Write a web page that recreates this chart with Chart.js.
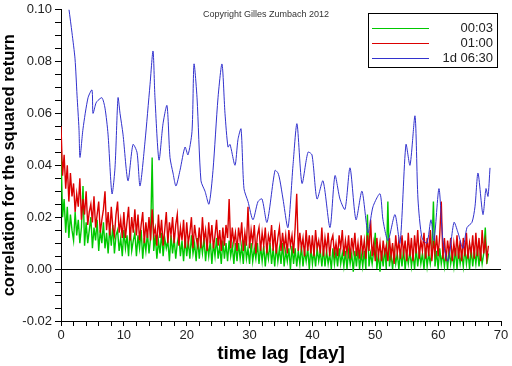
<!DOCTYPE html>
<html>
<head>
<meta charset="utf-8">
<style>
  html, body { margin: 0; padding: 0; background: #fff; }
  #chart { display: block; }
</style>
<script src="https://cdn.jsdelivr.net/npm/chart.js@4.4.1/dist/chart.umd.min.js"></script>
</head>
<body>
<canvas id="chart" width="512" height="366"></canvas>
<script>
'use strict';

// lag spacing (days) of the two intraday series below
const lagStep = 0.25;

const seriesLabels = ['00:03', '01:00', '1d 06:30'];
const seriesColors = ['rgb(0,200,0)', 'rgb(220,0,0)', 'rgb(50,50,205)'];

// 00:03 (green), one value every lagStep days, day 0 .. 68
const green0003 = [
  0.045, 0.020, 0.027, 0.014, 0.024, 0.012, 0.021, 0.015,
  0.011, 0.022, 0.013, 0.019, 0.010, 0.016, 0.032, 0.009,
  0.018, 0.010, 0.015, 0.020, 0.008, 0.016, 0.011, 0.019,
  0.007, 0.015, 0.010, 0.018, 0.008, 0.014, 0.006, 0.016,
  0.009, 0.017, 0.006, 0.013, 0.015, 0.007, 0.012, 0.005,
  0.015, 0.008, 0.013, 0.005, 0.016, 0.007, 0.011, 0.014,
  0.005, 0.013, 0.008, 0.015, 0.004, 0.012, 0.007, 0.014,
  0.006, 0.012, 0.043, 0.007, 0.013, 0.004, 0.011, 0.006,
  0.014, 0.005, 0.012, 0.008, 0.011, 0.003, 0.013, 0.006,
  0.012, 0.004, 0.010, 0.013, 0.005, 0.011, 0.003, 0.012,
  0.005, 0.011, 0.004, 0.013, 0.006, 0.010, 0.003, 0.012,
  0.004, 0.011, 0.006, 0.012, 0.003, 0.010, 0.005, 0.011,
  0.002, 0.010, 0.005, 0.012, 0.004, 0.009, 0.002, 0.011,
  0.004, 0.010, 0.003, 0.011, 0.005, 0.009, 0.002, 0.010,
  0.003, 0.010, 0.004, 0.009, 0.002, 0.011, 0.004, 0.008,
  0.002, 0.010, 0.003, 0.008, 0.004, 0.010, 0.002, 0.009,
  0.003, 0.009, 0.001, 0.008, 0.004, 0.010, 0.002, 0.008,
  0.001, 0.009, 0.003, 0.008, 0.002, 0.010, 0.001, 0.007,
  0.003, 0.008, 0.000, 0.009, 0.002, 0.008, 0.001, 0.007,
  0.002, 0.009, 0.001, 0.007, 0.003, 0.008, 0.000, 0.008,
  0.002, 0.007, 0.001, 0.008, 0.003, 0.007, 0.001, 0.008,
  0.001, 0.007, 0.002, 0.006, 0.000, 0.008, 0.002, 0.007,
  0.001, 0.008, 0.002, 0.006, 0.001, 0.007, 0.000, 0.007,
  0.002, 0.006, -0.001, 0.007, 0.001, 0.008, 0.000, 0.006,
  0.001, 0.007, 0.000, 0.021, 0.001, 0.006, 0.002, 0.007,
  0.014, 0.000, 0.006, -0.001, 0.007, 0.001, 0.008, 0.000,
  0.026, 0.001, 0.006, 0.000, 0.007, 0.002, 0.006, 0.000,
  0.007, 0.001, 0.008, 0.000, 0.006, 0.002, 0.007, 0.001,
  0.006, 0.000, 0.008, 0.001, 0.007, 0.002, 0.006, 0.000,
  0.008, 0.001, 0.006, 0.002, 0.007, 0.026, 0.001, 0.007,
  0.000, 0.008, 0.002, 0.006, 0.001, 0.007, 0.000, 0.008,
  0.002, 0.006, 0.001, 0.008, 0.000, 0.007, 0.002, 0.006,
  0.001, 0.008, 0.002, 0.007, 0.000, 0.008, 0.001, 0.007,
  0.002, 0.008, 0.001, 0.007, 0.002, 0.006, 0.016, 0.002,
  0.006
];

// 01:00 (red), same lags
const red0100 = [
  0.055, 0.036, 0.044, 0.031, 0.040, 0.026, 0.037, 0.028,
  0.033, 0.022, 0.029, 0.024, 0.035, 0.019, 0.027, 0.021,
  0.030, 0.017, 0.022, 0.025, 0.018, 0.028, 0.016, 0.021,
  0.026, 0.014, 0.019, 0.023, 0.030, 0.015, 0.022, 0.013,
  0.024, 0.016, 0.013, 0.021, 0.026, 0.014, 0.019, 0.012,
  0.022, 0.012, 0.018, 0.024, 0.011, 0.020, 0.014, 0.023,
  0.013, 0.021, 0.011, 0.017, 0.022, 0.010, 0.018, 0.012,
  0.020, 0.011, 0.023, 0.013, 0.016, 0.009, 0.021, 0.012,
  0.019, 0.009, 0.015, 0.022, 0.010, 0.018, 0.013, 0.020,
  0.010, 0.017, 0.021, 0.009, 0.016, 0.011, 0.019, 0.008,
  0.018, 0.010, 0.014, 0.020, 0.008, 0.017, 0.012, 0.009,
  0.016, 0.008, 0.020, 0.011, 0.015, 0.007, 0.018, 0.010,
  0.017, 0.008, 0.013, 0.019, 0.009, 0.015, 0.007, 0.016,
  0.009, 0.017, 0.012, 0.027, 0.008, 0.016, 0.010, 0.014,
  0.007, 0.016, 0.011, 0.018, 0.007, 0.014, 0.009, 0.024,
  0.008, 0.015, 0.010, 0.017, 0.006, 0.013, 0.016, 0.007,
  0.014, 0.009, 0.016, 0.006, 0.013, 0.010, 0.017, 0.007,
  0.015, 0.006, 0.012, 0.016, 0.007, 0.014, 0.008, 0.013,
  0.006, 0.015, 0.009, 0.013, 0.006, 0.016, 0.029, 0.007,
  0.014, 0.008, 0.012, 0.005, 0.015, 0.007, 0.013, 0.006,
  0.013, 0.005, 0.015, 0.008, 0.011, 0.006, 0.016, 0.005,
  0.012, 0.007, 0.014, 0.005, 0.011, 0.013, 0.006, 0.010,
  0.005, 0.013, 0.008, 0.015, 0.005, 0.011, 0.006, 0.013,
  0.004, 0.012, 0.007, 0.014, 0.005, 0.010, 0.004, 0.013,
  0.006, 0.011, 0.004, 0.013, 0.007, 0.019, 0.005, 0.010,
  0.003, 0.012, 0.005, 0.010, 0.003, 0.011, 0.006, 0.009,
  0.003, 0.012, 0.005, 0.010, 0.002, 0.013, 0.006, 0.011,
  0.004, 0.013, 0.006, 0.011, 0.003, 0.014, 0.005, 0.012,
  0.003, 0.013, 0.006, 0.015, 0.004, 0.011, 0.007, 0.014,
  0.004, 0.012, 0.005, 0.015, 0.003, 0.011, 0.006, 0.013,
  0.005, 0.013, 0.026, 0.004, 0.012, 0.003, 0.011, 0.006,
  0.012, 0.003, 0.010, 0.005, 0.013, 0.004, 0.011, 0.003,
  0.012, 0.005, 0.014, 0.004, 0.010, 0.006, 0.013, 0.004,
  0.014, 0.005, 0.012, 0.003, 0.015, 0.006, 0.011, 0.004,
  0.009
];

// 1d 06:30 (blue), lags in days and values
const blueDays = [
  1.27, 1.75, 2.23, 2.55, 2.86, 3.02, 3.50, 4.30, 4.93, 5.09,
  5.57, 5.89, 6.52, 7.00, 7.48, 8.11, 8.59, 9.07, 9.39, 9.86,
  10.66, 11.45, 12.09, 12.57, 13.36, 14.16, 14.64, 14.95, 15.59, 16.23,
  16.86, 17.34, 17.82, 18.29, 18.93, 19.73, 20.20, 20.84, 21.16, 21.64,
  22.27, 22.91, 23.54, 24.18, 24.98, 25.61, 26.09, 26.57, 26.89, 27.68,
  28.16, 28.64, 29.11, 29.75, 30.54, 31.34, 31.98, 32.77, 34.04, 34.52,
  34.84, 35.32, 36.11, 36.91, 37.54, 38.34, 39.29, 39.93, 40.73, 41.68,
  42.79, 43.59, 44.38, 45.18, 45.98, 46.93, 47.88, 48.84, 49.63, 50.75,
  51.22, 52.02, 53.13, 53.93, 54.88, 55.52, 56.32, 56.79, 57.43, 58.22,
  58.86, 59.34, 60.13, 60.77, 61.57, 62.52, 63.16, 63.95, 64.59, 65.38,
  65.86, 66.34, 67.13, 67.61, 67.93, 68.25
];
const blueValues = [
  0.100, 0.091, 0.081, 0.067, 0.054, 0.043, 0.054, 0.066, 0.069, 0.060,
  0.064, 0.065, 0.066, 0.062, 0.052, 0.029, 0.039, 0.066, 0.060, 0.052,
  0.034, 0.048, 0.045, 0.032, 0.049, 0.071, 0.084, 0.066, 0.042, 0.056,
  0.063, 0.043, 0.037, 0.032, 0.038, 0.047, 0.044, 0.053, 0.079, 0.066,
  0.034, 0.030, 0.025, 0.038, 0.066, 0.079, 0.060, 0.047, 0.048, 0.040,
  0.050, 0.054, 0.031, 0.026, 0.019, 0.026, 0.027, 0.018, 0.038, 0.037,
  0.034, 0.027, 0.016, 0.040, 0.056, 0.033, 0.045, 0.044, 0.027, 0.034,
  0.016, 0.036, 0.027, 0.023, 0.039, 0.019, 0.030, 0.014, 0.024, 0.029,
  0.019, 0.011, 0.021, 0.010, 0.048, 0.040, 0.059, 0.027, 0.012, 0.010,
  0.019, 0.011, 0.031, 0.011, 0.003, 0.018, 0.014, 0.008, 0.016, 0.018,
  0.024, 0.037, 0.021, 0.031, 0.028, 0.039
];

const xLabelTicks = [0, 10, 20, 30, 40, 50, 60, 70];
const xMinorStep = 2;
const yLabelTicks = [-0.02, 0.00, 0.02, 0.04, 0.06, 0.08, 0.10];
const yMinorStep = 0.005;

function isLabelTick(v, list) {
  return list.some(t => Math.abs(t - v) < 1e-9);
}

let canvasElem = document.getElementById('chart');

// copyright line and boxed legend, as in the original plot
const decorPlugin = {
  id: 'decor',
  afterDraw(chart) {
    const ctx = chart.ctx;
    ctx.save();
    ctx.fillStyle = '#333';
    ctx.font = '9px "Liberation Sans", Arial, sans-serif';
    ctx.textAlign = 'center';
    ctx.textBaseline = 'middle';
    ctx.fillText('Copyright Gilles Zumbach 2012', 266, 15);

    ctx.strokeStyle = '#000';
    ctx.lineWidth = 1;
    ctx.strokeRect(368.5, 13.5, 129, 54);
    ctx.font = '13px "Liberation Sans", Arial, sans-serif';
    ctx.textAlign = 'right';
    for (let i = 0; i < seriesLabels.length; i++) {
      let y = 28.5 + i * 15;
      ctx.strokeStyle = seriesColors[i];
      ctx.beginPath();
      ctx.moveTo(372, y);
      ctx.lineTo(429, y);
      ctx.stroke();
      ctx.fillStyle = '#222';
      ctx.fillText(seriesLabels[i], 493, y);
    }
    ctx.restore();
  }
};

function renderChart() {
  let dataObject = {
    datasets: [
      {
        label: seriesLabels[0],
        data: green0003.map((v, i) => ({ x: i * lagStep, y: v })),
        borderColor: seriesColors[0],
        borderWidth: 1.4,
        order: 3,
      },
      {
        label: seriesLabels[1],
        data: red0100.map((v, i) => ({ x: i * lagStep, y: v })),
        borderColor: seriesColors[1],
        borderWidth: 1.4,
        order: 2,
      },
      {
        label: seriesLabels[2],
        data: blueDays.map((d, i) => ({ x: d, y: blueValues[i] })),
        borderColor: seriesColors[2],
        borderWidth: 1,
        tension: 0.25,
        order: 1,
      }
    ]
  };

  let tickFont = { family: '"Liberation Sans", Arial, sans-serif', size: 13, lineHeight: 1 };

  let config = {
    type: 'line',
    data: dataObject,
    plugins: [decorPlugin],
    options: {
      responsive: false,
      animation: false,
      devicePixelRatio: 1,
      layout: { padding: { top: 7, right: 11, left: 0, bottom: 0 } },
      elements: {
        point: { radius: 0 },
        line: { borderWidth: 1, tension: 0 }
      },
      plugins: {
        legend: { display: false },
        tooltip: { enabled: false }
      },
      scales: {
        x: {
          type: 'linear',
          min: 0,
          max: 70,
          afterBuildTicks: (scale) => {
            let ticks = [];
            for (let v = 0; v <= 70; v += xMinorStep) ticks.push({ value: v });
            scale.ticks = ticks;
          },
          afterFit: (scale) => { scale.height = 45; },
          border: { display: true, color: '#000', width: 1 },
          grid: { drawOnChartArea: false, tickLength: 5, tickColor: '#000' },
          ticks: {
            autoSkip: false,
            maxRotation: 0,
            padding: 3,
            color: '#222',
            font: tickFont,
            callback: (v) => isLabelTick(v, xLabelTicks) ? String(v) : ''
          },
          title: {
            display: true,
            text: 'time lag  [day]',
            color: '#000',
            font: { family: '"Liberation Sans", Arial, sans-serif', size: 19, weight: 'bold' },
            padding: { top: 0, bottom: 1 }
          }
        },
        y: {
          min: -0.02,
          max: 0.10,
          afterBuildTicks: (scale) => {
            let ticks = [];
            for (let k = -4; k <= 20; k++) ticks.push({ value: k * yMinorStep });
            scale.ticks = ticks;
          },
          afterFit: (scale) => { scale.width = 61; },
          border: { display: true, color: '#000', width: 1 },
          grid: {
            drawOnChartArea: true,
            tickLength: 6,
            tickColor: '#000',
            color: (c) => (c.tick && Math.abs(c.tick.value) < 1e-9) ? '#000' : 'rgba(0,0,0,0)'
          },
          ticks: {
            autoSkip: false,
            padding: 3,
            color: '#222',
            font: tickFont,
            callback: (v) => isLabelTick(v, yLabelTicks) ? v.toFixed(2) : ''
          },
          title: {
            display: true,
            text: 'correlation for the squared return',
            color: '#000',
            font: { family: '"Liberation Sans", Arial, sans-serif', size: 16.5, weight: 'bold' },
            padding: { top: 0, bottom: 0 }
          }
        }
      }
    }
  };
  new Chart(canvasElem, config);
}

renderChart();
</script>
</body>
</html>
